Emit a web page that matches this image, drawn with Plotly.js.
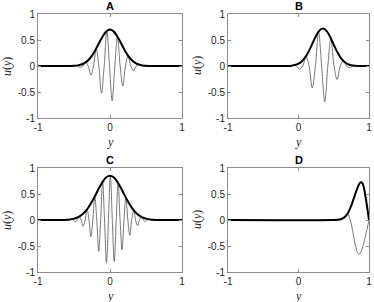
<!DOCTYPE html>
<html>
<head>
<meta charset="utf-8">
<script src="https://cdn.plot.ly/plotly-3.0.1.min.js"></script>
<style>
html,body{margin:0;padding:0;background:#fff;}
#chart{width:374px;height:302px;}
</style>
</head>
<body>
<div id="chart"></div>
<script>
// ---- Panel A ----
const aEnvX = [-1, -0.6, -0.5, -0.45, -0.4, -0.35, -0.3, -0.25, -0.2, -0.15, -0.1, -0.05, 0, 0.05, 0.1, 0.15, 0.2, 0.25, 0.3, 0.35, 0.4, 0.45, 0.5, 0.6, 1];
const aEnvY = [0, 0, 0.005, 0.012, 0.029, 0.06, 0.116, 0.201, 0.315, 0.446, 0.573, 0.666, 0.70, 0.666, 0.573, 0.446, 0.315, 0.201, 0.116, 0.06, 0.029, 0.012, 0.005, 0, 0];
const aWaveX = [-1, -0.6, -0.562, -0.525, -0.488, -0.451, -0.414, -0.377, -0.340, -0.303, -0.266, -0.229, -0.192, -0.155, -0.118, -0.081, -0.044, -0.007, 0.030, 0.067, 0.104, 0.141, 0.178, 0.215, 0.252, 0.289, 0.326, 0.363, 0.400, 0.437, 0.474, 0.511, 0.548, 0.6, 1];
const aWaveY = [0, 0, 0, 0, 0.006, 0, -0.025, 0, 0.07, 0, -0.175, 0, 0.33, 0, -0.525, 0, 0.672, 0, -0.67, 0, 0.56, 0, -0.385, 0, 0.195, 0, -0.09, 0, 0.028, 0, -0.008, 0, 0.002, 0, 0];

// ---- Panel B ----
const bEnvX = [-1, -0.2, -0.15, -0.1, -0.05, 0, 0.05, 0.1, 0.15, 0.2, 0.25, 0.3, 0.35, 0.4, 0.45, 0.5, 0.55, 0.6, 0.65, 0.7, 0.75, 0.8, 0.85, 0.9, 1];
const bEnvY = [0, 0, 0.002, 0.007, 0.018, 0.044, 0.093, 0.176, 0.295, 0.439, 0.582, 0.687, 0.72, 0.670, 0.556, 0.409, 0.268, 0.156, 0.081, 0.037, 0.015, 0.006, 0.002, 0, 0];
const bWaveX = [-1, -0.25, -0.16, -0.115, -0.07, -0.028, 0.015, 0.06, 0.105, 0.15, 0.195, 0.24, 0.284, 0.328, 0.372, 0.416, 0.46, 0.504, 0.548, 0.592, 0.635, 0.679, 0.722, 0.766, 0.81, 0.853, 0.895, 0.95, 1];
const bWaveY = [0, 0, -0.002, 0, 0.013, 0, -0.06, 0, 0.18, 0, -0.42, 0, 0.655, 0, -0.69, 0, 0.525, 0, -0.26, 0, 0.10, 0, -0.03, 0, 0.006, 0, -0.001, 0, 0];

// ---- Panel C ----
const cEnvX = [-1, -0.7, -0.65, -0.6, -0.55, -0.5, -0.45, -0.4, -0.35, -0.3, -0.25, -0.2, -0.15, -0.1, -0.05, 0, 0.05, 0.1, 0.15, 0.2, 0.25, 0.3, 0.35, 0.4, 0.45, 0.5, 0.55, 0.6, 0.65, 0.7, 1];
const cEnvY = [0, 0.001, 0.002, 0.006, 0.012, 0.026, 0.050, 0.091, 0.153, 0.241, 0.354, 0.486, 0.620, 0.739, 0.821, 0.85, 0.821, 0.739, 0.620, 0.486, 0.354, 0.241, 0.153, 0.091, 0.050, 0.026, 0.012, 0.006, 0.002, 0.001, 0];
const cWaveX = [-1, -0.66, -0.616, -0.589, -0.562, -0.535, -0.508, -0.481, -0.454, -0.427, -0.400, -0.373, -0.346, -0.319, -0.292, -0.265, -0.238, -0.211, -0.184, -0.157, -0.130, -0.103, -0.076, -0.049, -0.022, 0.005, 0.032, 0.059, 0.086, 0.113, 0.140, 0.167, 0.194, 0.221, 0.248, 0.275, 0.302, 0.329, 0.356, 0.383, 0.410, 0.437, 0.464, 0.491, 0.518, 0.545, 0.572, 0.599, 0.626, 0.67, 1];
const cWaveY = [0, 0, 0, -0.007, 0, 0.015, 0, -0.033, 0, 0.066, 0, -0.121, 0, 0.204, 0, -0.318, 0, 0.456, 0, -0.602, 0, 0.733, 0, -0.822, 0, 0.85, 0, -0.80, 0, 0.711, 0, -0.575, 0, 0.429, 0, -0.295, 0, 0.187, 0, -0.109, 0, 0.059, 0, -0.029, 0, 0.013, 0, -0.006, 0, 0, 0];

// ---- Panel D ----
const dEnvX = [-1, 0.5, 0.55, 0.6, 0.65, 0.7, 0.75, 0.8, 0.85, 0.875, 0.9, 0.925, 0.95, 0.975, 1];
const dEnvY = [0, 0, 0.004, 0.015, 0.05, 0.13, 0.28, 0.48, 0.66, 0.72, 0.72, 0.64, 0.45, 0.24, 0];
const dWaveX = [-1, 0.5, 0.55, 0.6, 0.65, 0.68, 0.70, 0.72, 0.75, 0.78, 0.81, 0.84, 0.86, 0.89, 0.92, 0.95, 0.975, 1];
const dWaveY = [0, 0, 0.004, 0.015, 0.05, 0.10, 0.11, 0.06, -0.08, -0.30, -0.50, -0.64, -0.655, -0.60, -0.47, -0.31, -0.16, 0];

const panelTitles = ['A', 'B', 'C', 'D'];
const xTickVals = [-1, 0, 1];
const xTickText = ['-1', '0', '1'];
const yTickVals = [-1, -0.5, 0, 0.5, 1];
const yTickText = ['-1', '-0.5', '0', '0.5', '1'];

const W = 374, H = 302;
const thin = {color: '#555', width: 0.8, shape: 'spline', smoothing: 1};
const thick = {color: '#000', width: 2, shape: 'spline', smoothing: 1};

const panels = [
  {env: [aEnvX, aEnvY], wave: [aWaveX, aWaveY], xa: 'x', ya: 'y'},
  {env: [bEnvX, bEnvY], wave: [bWaveX, bWaveY], xa: 'x2', ya: 'y2'},
  {env: [cEnvX, cEnvY], wave: [cWaveX, cWaveY], xa: 'x3', ya: 'y3'},
  {env: [dEnvX, dEnvY], wave: [dWaveX, dWaveY], xa: 'x4', ya: 'y4'}
];

const traces = [];
panels.forEach(p => {
  traces.push({x: p.wave[0], y: p.wave[1], xaxis: p.xa, yaxis: p.ya, mode: 'lines', line: thin, hoverinfo: 'skip'});
  traces.push({x: p.env[0], y: p.env[1], xaxis: p.xa, yaxis: p.ya, mode: 'lines', line: thick, hoverinfo: 'skip'});
});

// plot area boxes in pixels [left, right, top, bottom]
const boxes = [
  [38, 182, 14, 118],
  [228, 369, 14, 118],
  [38, 182, 168, 272],
  [228, 369, 168, 272]
];

function xAx(b) {
  return {domain: [b[0] / W, b[1] / W], range: [-1, 1], tickvals: xTickVals, ticktext: xTickText,
    showline: true, mirror: 'ticks', linecolor: '#8c8c8c', linewidth: 1, ticks: 'inside', ticklen: 3,
    tickcolor: '#8c8c8c', showgrid: false, zeroline: false, fixedrange: true, ticklabeloverflow: 'allow',
    tickfont: {family: 'Liberation Sans, Arial, sans-serif', size: 10, color: '#262626'}};
}
function yAx(b) {
  return {domain: [1 - b[3] / H, 1 - b[2] / H], range: [-1, 1], tickvals: yTickVals, ticktext: yTickText,
    showline: true, mirror: 'ticks', linecolor: '#8c8c8c', linewidth: 1, ticks: 'inside', ticklen: 3,
    tickcolor: '#8c8c8c', showgrid: false, zeroline: false, fixedrange: true, ticklabeloverflow: 'allow',
    tickfont: {family: 'Liberation Sans, Arial, sans-serif', size: 10, color: '#262626'}};
}

const annotations = [];
boxes.forEach((b, i) => {
  const cx = (b[0] + b[1]) / 2;
  const cy = (b[2] + b[3]) / 2;
  annotations.push({text: '<b>' + panelTitles[i] + '</b>', x: cx / W, y: 1 - (b[2] - 8) / H, xref: 'paper', yref: 'paper',
    showarrow: false, xanchor: 'center', yanchor: 'middle', font: {family: 'Liberation Sans, Arial, sans-serif', size: 11, color: '#000'}});
  annotations.push({text: '<i>y</i>', x: cx / W, y: 1 - (b[3] + 24) / H, xref: 'paper', yref: 'paper',
    showarrow: false, xanchor: 'center', yanchor: 'middle', font: {family: 'Liberation Serif, Times New Roman, serif', size: 12, color: '#262626'}});
  annotations.push({text: '<i>u</i>(<i>y</i>)', x: (b[0] - 31) / W, y: 1 - cy / H, xref: 'paper', yref: 'paper', textangle: -90,
    showarrow: false, xanchor: 'center', yanchor: 'middle', font: {family: 'Liberation Serif, Times New Roman, serif', size: 12, color: '#262626'}});
});

const layout = {
  width: W, height: H, margin: {l: 0, r: 0, t: 0, b: 0},
  paper_bgcolor: '#fff', plot_bgcolor: '#fff', showlegend: false,
  xaxis: xAx(boxes[0]), yaxis: yAx(boxes[0]),
  xaxis2: Object.assign(xAx(boxes[1]), {anchor: 'y2'}), yaxis2: Object.assign(yAx(boxes[1]), {anchor: 'x2'}),
  xaxis3: Object.assign(xAx(boxes[2]), {anchor: 'y3'}), yaxis3: Object.assign(yAx(boxes[2]), {anchor: 'x3'}),
  xaxis4: Object.assign(xAx(boxes[3]), {anchor: 'y4'}), yaxis4: Object.assign(yAx(boxes[3]), {anchor: 'x4'}),
  annotations: annotations
};

Plotly.newPlot('chart', traces, layout, {staticPlot: true, displayModeBar: false});
</script>
</body>
</html>
